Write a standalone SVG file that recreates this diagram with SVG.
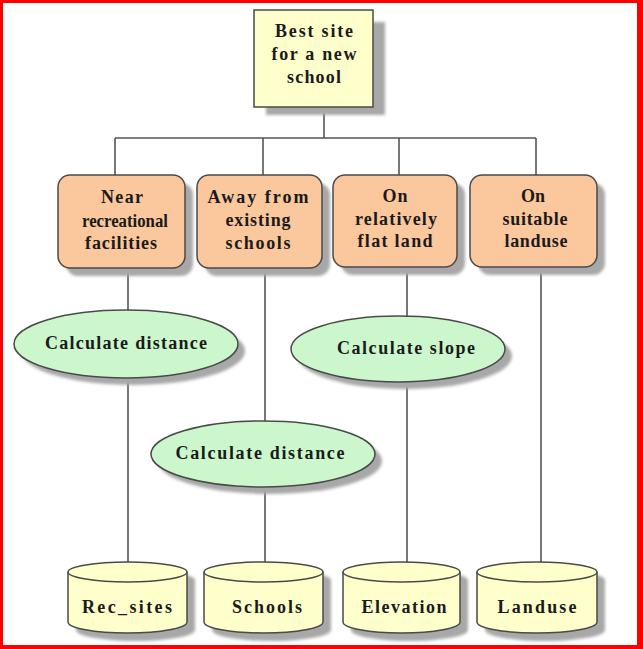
<svg xmlns="http://www.w3.org/2000/svg" width="643" height="649" viewBox="0 0 643 649">
<defs>
<filter id="blur" x="-10%" y="-10%" width="120%" height="120%"><feGaussianBlur stdDeviation="1.5"/></filter>
<style>
.t{font-family:"Liberation Serif","Times New Roman",serif;font-weight:bold;font-size:18px;fill:#1a1a1a;text-anchor:middle}
.sh{fill:#a8a8a8;filter:url(#blur)}
.box{stroke:#4a4a4a;stroke-width:1.5}
.yel{fill:#ffffcc}
.org{fill:#fbc79c}
.grn{fill:#ccf7cc}
.ln{stroke:#555;stroke-width:1.6;fill:none}
</style>
</defs>
<rect x="0" y="0" width="643" height="649" fill="#ff0000"/>
<rect x="3" y="3" width="634" height="642" fill="#ffffff"/>
<g id="connectors">
<path class="ln" d="M324 107V138M115 138H536M115 138V176M263 138V176M399 138V176M536 138V176"/>
<path class="ln" d="M128 268V568M265 268V568M407 268V568M541 268V568"/>
</g>
<g id="goal">
<rect class="sh" x="266" y="22" width="119" height="93"/>
<rect class="box yel" x="254" y="10" width="119" height="97"/>
<text class="t" x="314" y="37" textLength="78" lengthAdjust="spacing">Best site</text>
<text class="t" x="314" y="60" textLength="85" lengthAdjust="spacing">for a new</text>
<text class="t" x="314" y="83" textLength="54" lengthAdjust="spacing">school</text>
</g>
<g id="c1">
<rect class="sh" x="66" y="183" width="127" height="93" rx="12"/>
<rect class="box org" x="58" y="175" width="127" height="93" rx="12"/>
<text class="t" x="122" y="203" textLength="42" lengthAdjust="spacing">Near</text>
<text class="t" x="125" y="227" textLength="86" lengthAdjust="spacingAndGlyphs">recreational</text>
<text class="t" x="121" y="249" textLength="72" lengthAdjust="spacing">facilities</text>
</g>
<g id="c2">
<rect class="sh" x="205" y="183" width="125" height="93" rx="12"/>
<rect class="box org" x="197" y="175" width="125" height="93" rx="12"/>
<text class="t" x="258" y="203" textLength="101" lengthAdjust="spacing">Away from</text>
<text class="t" x="258" y="226" textLength="65" lengthAdjust="spacing">existing</text>
<text class="t" x="258" y="249" textLength="65" lengthAdjust="spacing">schools</text>
</g>
<g id="c3">
<rect class="sh" x="341" y="183" width="124" height="92" rx="12"/>
<rect class="box org" x="333" y="175" width="124" height="92" rx="12"/>
<text class="t" x="395" y="202" textLength="25" lengthAdjust="spacing">On</text>
<text class="t" x="396" y="225" textLength="82" lengthAdjust="spacing">relatively</text>
<text class="t" x="395" y="247" textLength="75" lengthAdjust="spacing">flat land</text>
</g>
<g id="c4">
<rect class="sh" x="478" y="183" width="127" height="92" rx="12"/>
<rect class="box org" x="470" y="175" width="127" height="92" rx="12"/>
<text class="t" x="533" y="202" textLength="24" lengthAdjust="spacing">On</text>
<text class="t" x="535" y="225" textLength="65" lengthAdjust="spacing">suitable</text>
<text class="t" x="536" y="247" textLength="63" lengthAdjust="spacing">landuse</text>
</g>
<g id="p1">
<ellipse class="sh" cx="133" cy="351" rx="112" ry="34"/>
<ellipse class="box grn" cx="126" cy="344" rx="112" ry="34"/>
<text class="t" x="126" y="349" textLength="162" lengthAdjust="spacing">Calculate distance</text>
</g>
<g id="p2">
<ellipse class="sh" cx="270" cy="461" rx="112" ry="33"/>
<ellipse class="box grn" cx="263" cy="454" rx="112" ry="33"/>
<text class="t" x="260" y="459" textLength="169" lengthAdjust="spacing">Calculate distance</text>
</g>
<g id="p3">
<ellipse class="sh" cx="405" cy="356" rx="107" ry="33"/>
<ellipse class="box grn" cx="398" cy="349" rx="107" ry="33"/>
<text class="t" x="406" y="354" textLength="138" lengthAdjust="spacing">Calculate slope</text>
</g>
<g id="d1">
<path class="sh" d="M76 580A59.5 10 0 0 1 195 580V630A59.5 11 0 0 1 76 630Z"/>
<path class="box yel" d="M68 572A59.5 10 0 0 1 187 572V622A59.5 11 0 0 1 68 622Z"/>
<path class="box" fill="none" d="M68 572A59.5 10 0 0 0 187 572"/>
<text class="t" x="127" y="613" textLength="90" lengthAdjust="spacing">Rec_sites</text>
</g>
<g id="d2">
<path class="sh" d="M212 580A59.5 10 0 0 1 331 580V630A59.5 11 0 0 1 212 630Z"/>
<path class="box yel" d="M204 572A59.5 10 0 0 1 323 572V622A59.5 11 0 0 1 204 622Z"/>
<path class="box" fill="none" d="M204 572A59.5 10 0 0 0 323 572"/>
<text class="t" x="267" y="613" textLength="70" lengthAdjust="spacing">Schools</text>
</g>
<g id="d3">
<path class="sh" d="M351 580A58.5 10 0 0 1 468 580V630A58.5 11 0 0 1 351 630Z"/>
<path class="box yel" d="M343 572A58.5 10 0 0 1 460 572V622A58.5 11 0 0 1 343 622Z"/>
<path class="box" fill="none" d="M343 572A58.5 10 0 0 0 460 572"/>
<text class="t" x="404" y="613" textLength="85" lengthAdjust="spacing">Elevation</text>
</g>
<g id="d4">
<path class="sh" d="M485 580A60 10 0 0 1 605 580V630A60 11 0 0 1 485 630Z"/>
<path class="box yel" d="M477 572A60 10 0 0 1 597 572V622A60 11 0 0 1 477 622Z"/>
<path class="box" fill="none" d="M477 572A60 10 0 0 0 597 572"/>
<text class="t" x="537" y="613" textLength="79" lengthAdjust="spacing">Landuse</text>
</g>
</svg>
